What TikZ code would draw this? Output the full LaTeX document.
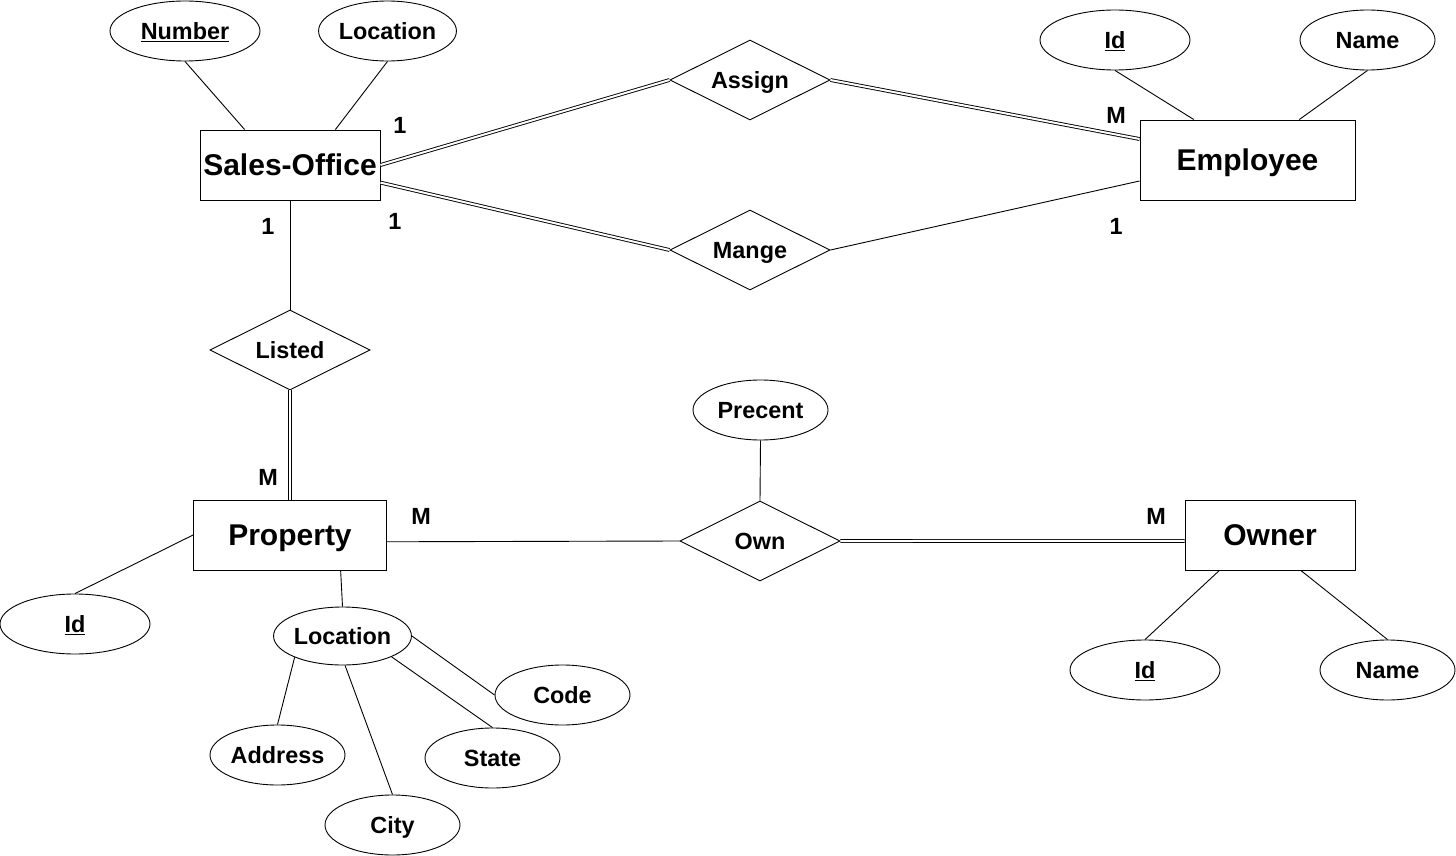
\documentclass[tikz,border=0pt]{standalone}
\usepackage{fontspec}
\setmainfont{Liberation Sans}
\usetikzlibrary{shapes.geometric}

\begin{document}
\begin{tikzpicture}[x=1pt, y=-1pt, line width=0.9pt,
        entity/.style={draw, rectangle, minimum height=70pt, inner sep=0pt, text height=27.2pt, text depth=6.4pt, font=\fontsize{30}{34}\selectfont\bfseries},
        attrib/.style={draw, ellipse, minimum width=135pt, minimum height=60pt, inner sep=0pt, text height=21.2pt, text depth=5pt, font=\fontsize{23.4}{27}\selectfont\bfseries},
        relship/.style={draw, diamond, aspect=2, minimum width=160pt, minimum height=80pt, inner sep=0pt, text height=21.2pt, text depth=5pt, font=\fontsize{23.4}{27}\selectfont\bfseries},
        card/.style={inner sep=0pt, font=\fontsize{23.4}{27}\selectfont\bfseries},
        total/.style={double, double distance=2pt}]
        \useasboundingbox (0, 0) rectangle (1456, 856);

        % 实体
        \node[entity, minimum width=180pt] (office) at (290, 165) {Sales-Office};
        \node[entity, minimum width=215pt, minimum height=80pt] (employee) at (1247.5, 160) {Employee};
        \node[entity, minimum width=193pt] (property) at (290, 535) {Property};
        \node[entity, minimum width=170pt] (owner) at (1270, 535) {Owner};

        % 联系
        \node[relship] (assign) at (750, 80) {Assign};
        \node[relship] (mange) at (750, 250) {Mange};
        \node[relship] (listed) at (290, 350) {Listed};
        \node[relship] (own) at (760, 541) {Own};

        % 属性
        \node[attrib, minimum width=150pt] (officeNum) at (185, 31) {\underline{Number}};
        \node[attrib] (officeLoc) at (387.5, 31) {Location};
        \node[attrib, minimum width=150pt] (empId) at (1115, 40) {\underline{Id}};
        \node[attrib] (empName) at (1367.5, 40) {Name};
        \node[attrib, minimum width=150pt] (propId) at (75, 624) {\underline{Id}};
        \node[attrib, minimum height=58pt] (propLoc) at (342.5, 636) {Location};
        \node[attrib] (locCode) at (562.5, 695) {Code};
        \node[attrib] (locAddr) at (277.5, 755) {Address};
        \node[attrib] (locState) at (492.5, 758) {State};
        \node[attrib] (locCity) at (392.5, 825) {City};
        \node[attrib] (ownPct) at (760.5, 410) {Precent};
        \node[attrib, minimum width=150pt] (ownerId) at (1145, 670) {\underline{Id}};
        \node[attrib] (ownerName) at (1387.5, 670) {Name};

        % 基数
        \node[card] (cOfficeAssign) at (400, 125) {1};
        \node[card] (cOfficeMange) at (395, 221) {1};
        \node[card] (cOfficeListed) at (268, 226) {1};
        \node[card] (cEmpAssign) at (1116, 115) {M};
        \node[card] (cEmpMange) at (1116, 226) {1};
        \node[card] (cPropListed) at (268, 477) {M};
        \node[card] (cPropOwn) at (421, 516) {M};
        \node[card] (cOwnerOwn) at (1156, 516) {M};

        % 连线
        \draw[total] (office.east) -- (assign.west);
        \draw[total] (assign.east) -- (employee.169);
        \draw[total] (office.349) -- (mange.west);
        \draw (mange.east) -- (employee.191);
        \draw (office.south) -- (listed.north);
        \draw[total] (listed.south) -- (property.north);
        \draw (property.-4) -- (own.west);
        \draw[total] (own.east) -- (owner.184);
        \draw (ownPct.south) -- (own.north);

        % 属性连线
        \draw (officeNum.south) -- (office.142);
        \draw (officeLoc.south) -- (office.38);
        \draw (empId.south) -- (employee.143);
        \draw (empName.south) -- (employee.38);
        \draw (property.west) -- (propId.north);
        \draw (property.325) -- (propLoc.north);
        \draw (propLoc.east) -- (locCode.west);
        \draw (propLoc.-23) -- (locState.north);
        \draw (propLoc.-85) -- (locCity.north);
        \draw (propLoc.204) -- (locAddr.north);
        \draw (owner.215) -- (ownerId.north);
        \draw (owner.311) -- (ownerName.north);
    \end{tikzpicture}
\end{document}
